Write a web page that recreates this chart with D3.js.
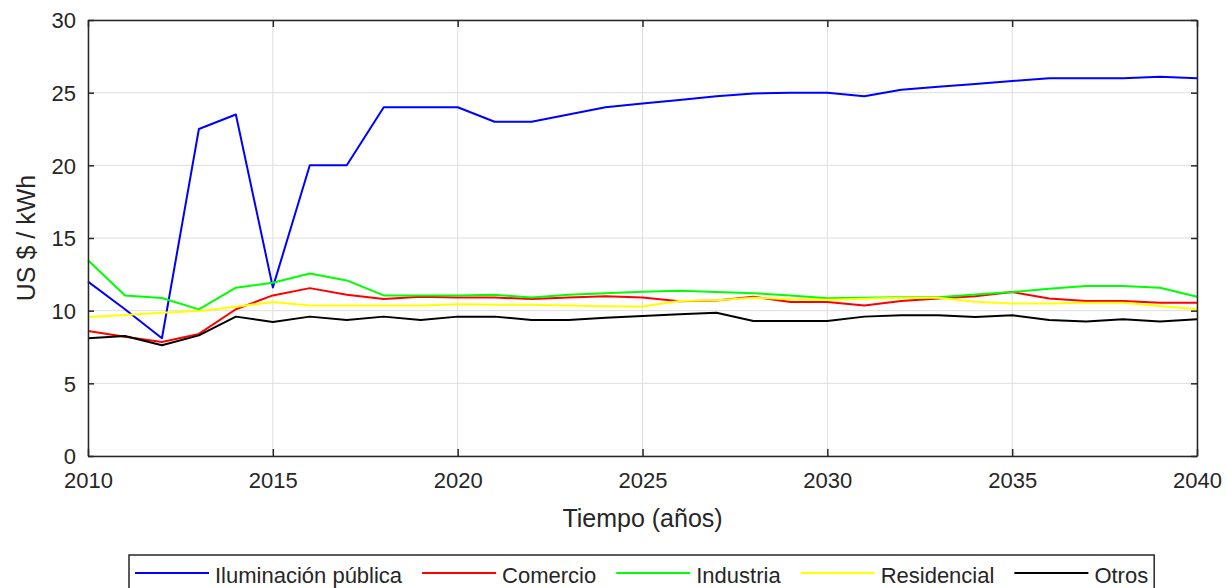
<!DOCTYPE html>
<html>
<head>
<meta charset="utf-8">
<script src="https://cdn.jsdelivr.net/npm/d3@7"></script>
<style>
  body { margin: 0; background: #fff; }
  svg { display: block; font-family: "Liberation Sans", Arial, sans-serif; }
  .tick text { fill: #262626; }
</style>
</head>
<body>
<div id="chart"></div>
<script>
// Data (yearly values, US $ / kWh)
const years = d3.range(2010, 2041);
const seriesNames = ["Iluminación pública", "Comercio", "Industria", "Residencial", "Otros"];
const seriesColors = ["#0000ff", "#ff0000", "#00ff00", "#ffff00", "#000000"];

const iluminacion = [12.0, 10.1, 8.1, 22.5, 23.5, 11.6, 20.0, 20.0, 24.0, 24.0, 24.0, 23.0, 23.0, 23.5, 24.0,
  24.25, 24.5, 24.75, 24.95, 25.0, 25.0, 24.75, 25.2, 25.4, 25.6, 25.8, 26.0, 26.0, 26.0, 26.1, 26.0];
const comercio = [8.6, 8.2, 7.85, 8.4, 10.1, 11.05, 11.55, 11.1, 10.8, 10.95, 10.9, 10.9, 10.8, 10.9, 11.0,
  10.9, 10.65, 10.7, 10.95, 10.6, 10.6, 10.36, 10.66, 10.84, 11.0, 11.28, 10.84, 10.66, 10.66, 10.55, 10.55];
const industria = [13.47, 11.05, 10.87, 10.09, 11.58, 11.92, 12.56, 12.08, 11.05, 11.05, 11.05, 11.1, 10.9, 11.1, 11.2,
  11.3, 11.37, 11.28, 11.2, 11.05, 10.85, 10.89, 10.93, 10.93, 11.12, 11.28, 11.51, 11.69, 11.69, 11.58, 10.96];
const residencial = [9.56, 9.7, 9.85, 9.97, 10.27, 10.6, 10.36, 10.36, 10.36, 10.36, 10.45, 10.4, 10.4, 10.35, 10.3,
  10.28, 10.66, 10.72, 10.89, 10.78, 10.75, 10.82, 10.89, 10.89, 10.62, 10.5, 10.5, 10.55, 10.55, 10.32, 10.09];
const otros = [8.1, 8.26, 7.62, 8.3, 9.59, 9.22, 9.59, 9.36, 9.59, 9.36, 9.59, 9.59, 9.36, 9.36, 9.52,
  9.63, 9.75, 9.86, 9.29, 9.29, 9.29, 9.59, 9.68, 9.68, 9.56, 9.68, 9.36, 9.25, 9.41, 9.25, 9.41];

const xTicks = [2010, 2015, 2020, 2025, 2030, 2035, 2040];
const yTicks = [0, 5, 10, 15, 20, 25, 30];

class LineChart {
  constructor(_config, _series) {
    this.config = {
      parentElement: _config.parentElement,
      containerWidth: _config.containerWidth || 1227,
      containerHeight: _config.containerHeight || 588,
      margin: _config.margin || { top: 20, right: 30, bottom: 132, left: 88 },
      axisColor: "#262626",
      gridColor: "#dedede",
    };
    this.series = _series;
    this.initVis();
  }

  initVis() {
    let vis = this;

    vis.width = vis.config.containerWidth - vis.config.margin.left - vis.config.margin.right;
    vis.height = vis.config.containerHeight - vis.config.margin.top - vis.config.margin.bottom;

    vis.svg = d3.select(vis.config.parentElement)
      .append("svg")
      .attr("width", vis.config.containerWidth)
      .attr("height", vis.config.containerHeight);

    vis.chart = vis.svg.append("g")
      .attr("transform", `translate(${vis.config.margin.left},${vis.config.margin.top})`);

    vis.xScale = d3.scaleLinear().domain([2010, 2040]).range([0, vis.width]);
    vis.yScale = d3.scaleLinear().domain([0, 30]).range([vis.height, 0]);

    vis.renderVis();
  }

  renderVis() {
    let vis = this;
    const c = vis.config;

    // grid
    vis.chart.append("g")
      .selectAll("line.vgrid")
      .data(xTicks)
      .join("line")
      .attr("x1", d => vis.xScale(d)).attr("x2", d => vis.xScale(d))
      .attr("y1", 0).attr("y2", vis.height)
      .attr("stroke", c.gridColor).attr("stroke-width", 1);
    vis.chart.append("g")
      .selectAll("line.hgrid")
      .data(yTicks)
      .join("line")
      .attr("x1", 0).attr("x2", vis.width)
      .attr("y1", d => vis.yScale(d)).attr("y2", d => vis.yScale(d))
      .attr("stroke", c.gridColor).attr("stroke-width", 1);

    // lines
    const line = d3.line()
      .x((d, i) => vis.xScale(years[i]))
      .y(d => vis.yScale(d));

    vis.chart.selectAll(".series")
      .data(vis.series)
      .join("path")
      .attr("class", "series")
      .attr("fill", "none")
      .attr("stroke", d => d.color)
      .attr("stroke-width", 2)
      .attr("stroke-linejoin", "round")
      .attr("d", d => line(d.values));

    // axes (MATLAB-like box with inward ticks)
    const xAxis = d3.axisBottom(vis.xScale).tickValues(xTicks).tickFormat(d3.format("d"))
      .tickSizeInner(-7).tickSizeOuter(0).tickPadding(16);
    const yAxis = d3.axisLeft(vis.yScale).tickValues(yTicks)
      .tickSizeInner(-6).tickSizeOuter(0).tickPadding(12);
    const xAxisTop = d3.axisTop(vis.xScale).tickValues(xTicks).tickFormat("")
      .tickSizeInner(-7).tickSizeOuter(0);
    const yAxisRight = d3.axisRight(vis.yScale).tickValues(yTicks).tickFormat("")
      .tickSizeInner(-6).tickSizeOuter(0);

    const gx = vis.chart.append("g").attr("transform", `translate(0,${vis.height})`).call(xAxis);
    const gy = vis.chart.append("g").call(yAxis);
    const gxt = vis.chart.append("g").call(xAxisTop);
    const gyr = vis.chart.append("g").attr("transform", `translate(${vis.width},0)`).call(yAxisRight);

    [gx, gy, gxt, gyr].forEach(g => {
      g.select(".domain").attr("stroke", c.axisColor).attr("stroke-width", 1.5);
      g.selectAll(".tick line").attr("stroke", c.axisColor).attr("stroke-width", 1.5);
      g.selectAll(".tick text").attr("font-size", 22).attr("font-family", "Liberation Sans, Arial, sans-serif");
    });
    gy.selectAll(".tick text").attr("dy", "0.36em");

    // axis labels
    vis.chart.append("text")
      .attr("x", vis.width / 2)
      .attr("y", vis.height + 71)
      .attr("text-anchor", "middle")
      .attr("font-size", 25)
      .attr("fill", c.axisColor)
      .text("Tiempo (años)");

    vis.chart.append("text")
      .attr("transform", `translate(${-53},${vis.height / 2}) rotate(-90)`)
      .attr("text-anchor", "middle")
      .attr("font-size", 25)
      .attr("fill", c.axisColor)
      .text("US $ / kWh");

    // legend
    const legend = vis.svg.append("g").attr("transform", "translate(129,555)");
    const legendBox = legend.append("rect")
      .attr("x", 0).attr("y", 0).attr("height", 50)
      .attr("fill", "#fff").attr("stroke", c.axisColor).attr("stroke-width", 1.5);

    let xPos = 6;
    vis.series.forEach(s => {
      legend.append("line")
        .attr("x1", xPos).attr("x2", xPos + 74)
        .attr("y1", 18).attr("y2", 18)
        .attr("stroke", s.color).attr("stroke-width", 2);
      const t = legend.append("text")
        .attr("x", xPos + 80).attr("y", 28)
        .attr("font-size", 22)
        .attr("fill", c.axisColor)
        .text(s.name);
      xPos += 80 + t.node().getComputedTextLength() + 20;
    });
    legendBox.attr("width", xPos - 14);
  }
}

const series = [iluminacion, comercio, industria, residencial, otros].map((values, i) => ({
  name: seriesNames[i], color: seriesColors[i], values: values
}));

new LineChart({ parentElement: "#chart" }, series);
</script>
</body>
</html>
